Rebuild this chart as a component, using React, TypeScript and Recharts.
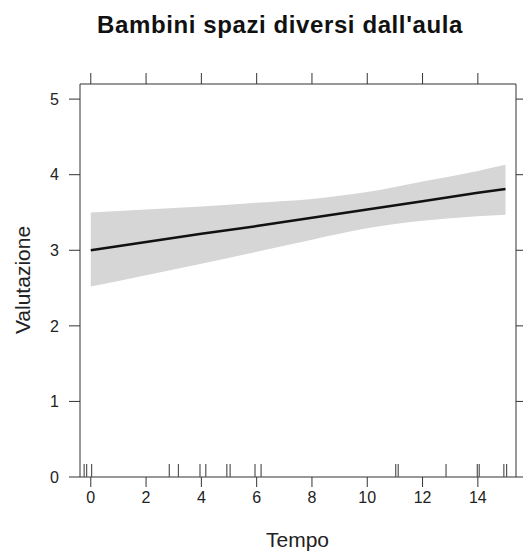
import { Area, ComposedChart, Line, Scatter, XAxis, YAxis } from "recharts";

// effect of Tempo on Valutazione
const tempo = [0, 2, 4, 6, 8, 10, 12, 14, 15];
const fit = [3.0, 3.11, 3.22, 3.32, 3.43, 3.54, 3.65, 3.76, 3.81];
const upper = [3.5, 3.54, 3.58, 3.63, 3.68, 3.77, 3.91, 4.05, 4.13];
const lower = [2.52, 2.67, 2.82, 2.98, 3.14, 3.29, 3.39, 3.45, 3.47];

// observed Tempo values (rug)
const rugTempo = [
  -0.24, -0.15, 0.03, 2.84, 3.17, 3.95, 4.16, 4.92, 5.04, 5.94, 6.16, 11.03,
  11.12, 12.85, 13.98, 14.05, 14.94, 15.04,
];

const xTicks = [0, 2, 4, 6, 8, 10, 12, 14];
const yTicks = [0, 1, 2, 3, 4, 5];

const data = tempo.map((t, i) => ({
  x: t,
  fit: fit[i],
  band: [lower[i], upper[i]],
}));
const rug = rugTempo.map((t) => ({ x: t, y: 0 }));

const font = "'Liberation Sans', Arial, sans-serif";
const tickStyle = { fontSize: 16, fill: "#222", fontFamily: font };
const xDomain = [-0.39, 15.38];
const yDomain = [0, 5.2];

const RugMark = (props: any) => {
  const { cx, cy } = props;
  return <line x1={cx} x2={cx} y1={cy} y2={cy - 13} stroke="#555" strokeWidth={1.2} />;
};

const NoLabel = () => <g />;

export default function App() {
  return (
    <div style={{ position: "absolute", left: 0, top: 0, width: 523, height: 551, background: "#fff" }}>
      <div
        style={{
          position: "absolute",
          left: 0,
          top: 13,
          width: 560,
          textAlign: "center",
          fontFamily: font,
          fontWeight: "bold",
          fontSize: 24,
          letterSpacing: 0.6,
          lineHeight: "24px",
          color: "#111",
        }}
      >
        Bambini spazi diversi dall'aula
      </div>
      <div
        style={{
          position: "absolute",
          left: 22,
          top: 280,
          transform: "translate(-50%, -50%) rotate(-90deg)",
          fontFamily: font,
          fontSize: 21,
          lineHeight: "21px",
          whiteSpace: "nowrap",
          color: "#222",
        }}
      >
        Valutazione
      </div>
      <div
        style={{
          position: "absolute",
          left: 0,
          top: 529,
          width: 595,
          textAlign: "center",
          fontFamily: font,
          fontSize: 21,
          lineHeight: "21px",
          color: "#222",
        }}
      >
        Tempo
      </div>
      <ComposedChart
        width={523}
        height={551}
        data={data}
        margin={{ top: 72, right: 0, bottom: 44, left: 20 }}
      >
        <XAxis
          dataKey="x"
          type="number"
          domain={xDomain}
          ticks={xTicks}
          allowDataOverflow
          height={30}
          tickSize={10}
          tickMargin={5}
          tick={tickStyle}
          stroke="#333"
        />
        <XAxis
          xAxisId="top"
          dataKey="x"
          orientation="top"
          type="number"
          domain={xDomain}
          ticks={xTicks}
          allowDataOverflow
          height={12}
          tickSize={11}
          tick={NoLabel}
          stroke="#333"
        />
        <YAxis
          type="number"
          domain={yDomain}
          ticks={yTicks}
          allowDataOverflow
          width={60}
          tickSize={11}
          tickMargin={10}
          tick={tickStyle}
          stroke="#333"
        />
        <YAxis
          yAxisId="right"
          orientation="right"
          type="number"
          domain={yDomain}
          ticks={yTicks}
          allowDataOverflow
          width={7}
          tickSize={10}
          tick={NoLabel}
          stroke="#333"
        />
        <Area
          dataKey="band"
          type="monotone"
          fill="#d6d6d6"
          fillOpacity={1}
          stroke="none"
          isAnimationActive={false}
        />
        {/* invisible copy so the top and right frame axes are drawn */}
        <Line
          xAxisId="top"
          yAxisId="right"
          dataKey="fit"
          stroke="none"
          dot={false}
          activeDot={false}
          legendType="none"
          isAnimationActive={false}
        />
        <Line
          dataKey="fit"
          type="linear"
          stroke="#111"
          strokeWidth={2.5}
          dot={false}
          isAnimationActive={false}
        />
        <Scatter data={rug} dataKey="y" shape={RugMark} isAnimationActive={false} />
      </ComposedChart>
    </div>
  );
}
